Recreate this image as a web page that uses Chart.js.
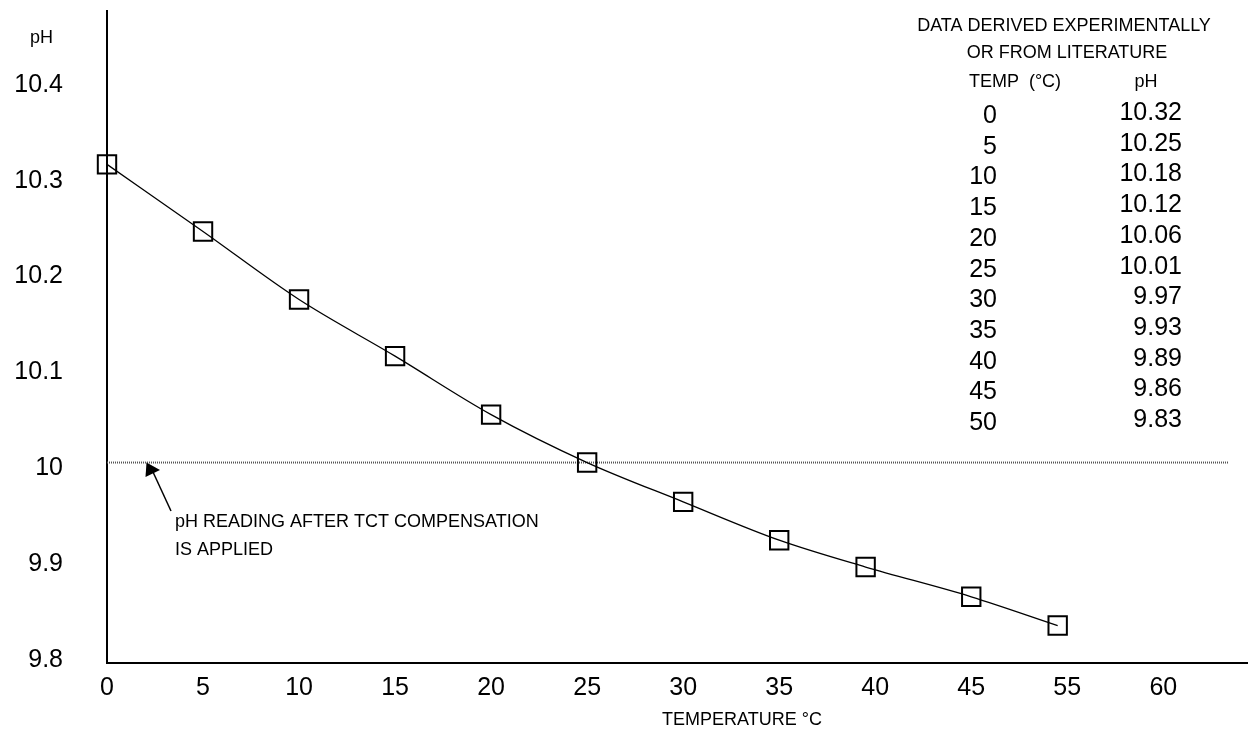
<!DOCTYPE html>
<html>
<head>
<meta charset="utf-8">
<script src="https://cdn.jsdelivr.net/npm/chart.js@4"></script>
<style>
  html, body { margin: 0; padding: 0; background: #ffffff; }
  #wrap { width: 1248px; height: 729px; }
</style>
</head>
<body>
<div id="wrap"><canvas id="c" width="1248" height="729"></canvas></div>
<script>
// ---- data ----
const temps = [0, 5, 10, 15, 20, 25, 30, 35, 39.5, 45, 49.5];
const phValues = [10.317, 10.247, 10.176, 10.117, 10.056, 10.006, 9.965, 9.925, 9.897, 9.866, 9.836];
const compensatedPh = 10.006;
const refLineTemps = [0, 58.37];

const xTickValues = [0, 5, 10, 15, 20, 25, 30, 35, 40, 45, 50, 55];
const xTickLabels = ['0', '5', '10', '15', '20', '25', '30', '35', '40', '45', '55', '60'];
const yTickValues = [9.8, 9.9, 10, 10.1, 10.2, 10.3, 10.4];
const yTickLabels = ['9.8', '9.9', '10', '10.1', '10.2', '10.3', '10.4'];

const tableTemps = ['0', '5', '10', '15', '20', '25', '30', '35', '40', '45', '50'];
const tablePh = ['10.32', '10.25', '10.18', '10.12', '10.06', '10.01', '9.97', '9.93', '9.89', '9.86', '9.83'];

const FONT = '"Liberation Sans", Arial, Helvetica, sans-serif';

function noPad(scale) {
  scale.paddingTop = 0;
  scale.paddingBottom = 0;
  scale.paddingLeft = 0;
  scale.paddingRight = 0;
}

const textPlugin = {
  id: 'annotations',
  afterDraw(chart) {
    const ctx = chart.ctx;
    ctx.save();
    ctx.fillStyle = '#000';
    ctx.textBaseline = 'alphabetic';

    // y-axis unit label
    ctx.font = '18px ' + FONT;
    ctx.textAlign = 'left';
    ctx.fillText('pH', 30, 43);

    // x-axis title
    ctx.textAlign = 'center';
    ctx.fillText('TEMPERATURE °C', 742, 725);

    // table header
    ctx.fillText('DATA DERIVED EXPERIMENTALLY', 1064, 31);
    ctx.fillText('OR FROM LITERATURE', 1067, 58);
    ctx.fillText('TEMP  (°C)', 1015, 87);
    ctx.fillText('pH', 1146, 87);

    // table rows
    ctx.font = '25px ' + FONT;
    ctx.textAlign = 'right';
    for (let i = 0; i < tableTemps.length; i++) {
      ctx.fillText(tableTemps[i], 997, 123 + 30.7 * i);
      ctx.fillText(tablePh[i], 1182, 120 + 30.7 * i);
    }

    // annotation text
    ctx.font = '18px ' + FONT;
    ctx.textAlign = 'left';
    ctx.fillText('pH READING AFTER TCT COMPENSATION', 175, 527);
    ctx.fillText('IS APPLIED', 175, 555);

    // arrow
    ctx.strokeStyle = '#000';
    ctx.lineWidth = 1.5;
    ctx.beginPath();
    ctx.moveTo(171, 511);
    ctx.lineTo(153, 472);
    ctx.stroke();
    ctx.beginPath();
    ctx.moveTo(146.5, 462.5);
    ctx.lineTo(145.5, 477);
    ctx.lineTo(160, 470);
    ctx.closePath();
    ctx.fill();
    ctx.restore();
  }
};

new Chart(document.getElementById('c'), {
  type: 'line',
  data: {
    datasets: [
      {
        data: temps.map((t, i) => ({ x: t, y: phValues[i] })),
        borderColor: '#000',
        borderWidth: 1.3,
        cubicInterpolationMode: 'monotone',
        pointStyle: 'rect',
        pointRadius: 13,
        pointBorderWidth: 2,
        pointBorderColor: '#000',
        pointBackgroundColor: 'rgba(0,0,0,0)',
        clip: false,
        fill: false
      },
      {
        data: refLineTemps.map(t => ({ x: t, y: compensatedPh })),
        borderColor: '#555',
        borderWidth: 2,
        borderDash: [1, 1],
        pointRadius: 0,
        tension: 0,
        clip: false,
        fill: false
      }
    ]
  },
  options: {
    responsive: false,
    animation: false,
    devicePixelRatio: 1,
    layout: { autoPadding: false, padding: { top: 11, left: 0, right: 0, bottom: 0 } },
    plugins: {
      legend: { display: false },
      tooltip: { enabled: false },
      title: { display: false }
    },
    scales: {
      x: {
        type: 'linear',
        min: 0,
        max: 59.41,
        afterBuildTicks(scale) { scale.ticks = xTickValues.map(v => ({ value: v })); },
        afterFit(scale) { scale.height = 66; noPad(scale); },
        grid: { display: false, drawTicks: false },
        border: { display: true, color: '#000', width: 2 },
        ticks: {
          padding: 10,
          color: '#000',
          font: { family: FONT, size: 25 },
          maxRotation: 0,
          autoSkip: false,
          callback: (v, i) => xTickLabels[i]
        }
      },
      y: {
        type: 'linear',
        min: 9.7969,
        max: 10.477,
        afterBuildTicks(scale) { scale.ticks = yTickValues.map(v => ({ value: v })); },
        afterFit(scale) { scale.width = 107; noPad(scale); },
        grid: { display: false, drawTicks: false },
        border: { display: true, color: '#000', width: 2 },
        ticks: {
          padding: 44,
          color: '#000',
          font: { family: FONT, size: 25 },
          autoSkip: false,
          callback: (v, i) => yTickLabels[i]
        }
      }
    }
  },
  plugins: [textPlugin]
});
</script>
</body>
</html>
